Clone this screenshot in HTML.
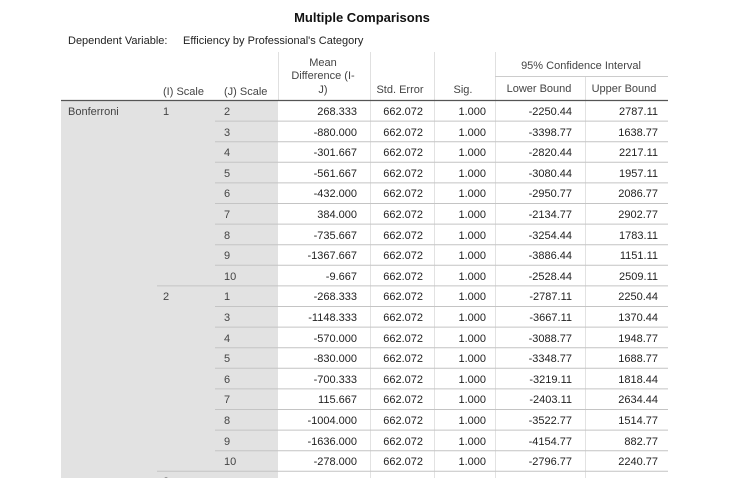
<!DOCTYPE html>
<html><head><meta charset="utf-8"><style>
html,body{margin:0;padding:0;background:#fff;width:739px;height:504px;overflow:hidden}
svg{display:block;font-family:"Liberation Sans",Arial,sans-serif}
.t{font-size:11px;fill:#222}
.l{font-size:11px;fill:#444}
.r{text-anchor:end}
.c{text-anchor:middle}
</style></head><body>
<svg width="739" height="504" viewBox="0 0 739 504">
<defs><clipPath id="cp"><rect x="0" y="0" width="739" height="478"/></clipPath></defs>
<text x="362" y="22" class="c" style="font-size:13px;font-weight:bold;fill:#111">Multiple Comparisons</text>
<text x="68" y="44" class="t">Dependent Variable:</text>
<text x="183" y="44" class="t">Efficiency by Professional's Category</text>
<!-- header -->
<g stroke="#e0e0e0" stroke-width="1">
<line x1="370.5" y1="52" x2="370.5" y2="100"/>
<line x1="434.5" y1="52" x2="434.5" y2="100"/>
<line x1="495.5" y1="52" x2="495.5" y2="100"/>
<line x1="585.5" y1="76" x2="585.5" y2="100"/>
<line x1="278.5" y1="52" x2="278.5" y2="100"/>
</g>
<line x1="495" y1="76.5" x2="668" y2="76.5" stroke="#ccc"/>
<text x="323" y="66" class="l c">Mean</text>
<text x="323" y="79" class="l c">Difference (I-</text>
<text x="323" y="93" class="l c">J)</text>
<text x="163" y="95" class="l">(I) Scale</text>
<text x="224" y="95" class="l">(J) Scale</text>
<text x="400" y="93" class="l c">Std. Error</text>
<text x="463" y="93" class="l c">Sig.</text>
<text x="581" y="69" class="l c">95% Confidence Interval</text>
<text x="539" y="92" class="l c">Lower Bound</text>
<text x="624" y="92" class="l c">Upper Bound</text>
<g clip-path="url(#cp)">
<rect x="61" y="100" width="217" height="380" fill="#e2e2e2"/>
<g stroke="#e2e2e2">
<line x1="370.5" y1="100" x2="370.5" y2="480"/>
<line x1="434.5" y1="100" x2="434.5" y2="480"/>
<line x1="495.5" y1="100" x2="495.5" y2="480"/>
<line x1="585.5" y1="100" x2="585.5" y2="480"/>
</g>
<g stroke="#c4c4c4">
<line x1="215" y1="121.1" x2="668" y2="121.1"/>
<line x1="215" y1="141.7" x2="668" y2="141.7"/>
<line x1="215" y1="162.3" x2="668" y2="162.3"/>
<line x1="215" y1="182.9" x2="668" y2="182.9"/>
<line x1="215" y1="203.5" x2="668" y2="203.5"/>
<line x1="215" y1="224.1" x2="668" y2="224.1"/>
<line x1="215" y1="244.7" x2="668" y2="244.7"/>
<line x1="215" y1="265.3" x2="668" y2="265.3"/>
<line x1="157" y1="285.9" x2="668" y2="285.9"/>
<line x1="215" y1="306.5" x2="668" y2="306.5"/>
<line x1="215" y1="327.1" x2="668" y2="327.1"/>
<line x1="215" y1="347.7" x2="668" y2="347.7"/>
<line x1="215" y1="368.3" x2="668" y2="368.3"/>
<line x1="215" y1="388.9" x2="668" y2="388.9"/>
<line x1="215" y1="409.5" x2="668" y2="409.5"/>
<line x1="215" y1="430.1" x2="668" y2="430.1"/>
<line x1="215" y1="450.7" x2="668" y2="450.7"/>
<line x1="157" y1="471.3" x2="668" y2="471.3"/>
</g>
<line x1="61" y1="100.5" x2="668" y2="100.5" stroke="#555" stroke-width="1.2"/>
<text x="68" y="115" class="l">Bonferroni</text>
<text x="163" y="115" class="l">1</text>
<text x="163" y="300" class="l">2</text>
<text x="163" y="485" class="l">3</text>
<g class="l">
<text x="224" y="115">2</text><text x="224" y="136">3</text><text x="224" y="156">4</text><text x="224" y="177">5</text><text x="224" y="197">6</text><text x="224" y="218">7</text><text x="224" y="239">8</text><text x="224" y="259">9</text><text x="224" y="280">10</text>
<text x="224" y="300">1</text><text x="224" y="321">3</text><text x="224" y="342">4</text><text x="224" y="362">5</text><text x="224" y="383">6</text><text x="224" y="403">7</text><text x="224" y="424">8</text><text x="224" y="445">9</text><text x="224" y="465">10</text><text x="224" y="486">1</text>
</g>
<g class="t r">
<text x="357" y="115">268.333</text><text x="357" y="136">-880.000</text><text x="357" y="156">-301.667</text><text x="357" y="177">-561.667</text><text x="357" y="197">-432.000</text><text x="357" y="218">384.000</text><text x="357" y="239">-735.667</text><text x="357" y="259">-1367.667</text><text x="357" y="280">-9.667</text>
<text x="357" y="300">-268.333</text><text x="357" y="321">-1148.333</text><text x="357" y="342">-570.000</text><text x="357" y="362">-830.000</text><text x="357" y="383">-700.333</text><text x="357" y="403">115.667</text><text x="357" y="424">-1004.000</text><text x="357" y="445">-1636.000</text><text x="357" y="465">-278.000</text><text x="357" y="486">-880.000</text>
</g>
<g class="t r">
<text x="423" y="115">662.072</text><text x="423" y="136">662.072</text><text x="423" y="156">662.072</text><text x="423" y="177">662.072</text><text x="423" y="197">662.072</text><text x="423" y="218">662.072</text><text x="423" y="239">662.072</text><text x="423" y="259">662.072</text><text x="423" y="280">662.072</text>
<text x="423" y="300">662.072</text><text x="423" y="321">662.072</text><text x="423" y="342">662.072</text><text x="423" y="362">662.072</text><text x="423" y="383">662.072</text><text x="423" y="403">662.072</text><text x="423" y="424">662.072</text><text x="423" y="445">662.072</text><text x="423" y="465">662.072</text><text x="423" y="486">662.072</text>
</g>
<g class="t r">
<text x="486" y="115">1.000</text><text x="486" y="136">1.000</text><text x="486" y="156">1.000</text><text x="486" y="177">1.000</text><text x="486" y="197">1.000</text><text x="486" y="218">1.000</text><text x="486" y="239">1.000</text><text x="486" y="259">1.000</text><text x="486" y="280">1.000</text>
<text x="486" y="300">1.000</text><text x="486" y="321">1.000</text><text x="486" y="342">1.000</text><text x="486" y="362">1.000</text><text x="486" y="383">1.000</text><text x="486" y="403">1.000</text><text x="486" y="424">1.000</text><text x="486" y="445">1.000</text><text x="486" y="465">1.000</text><text x="486" y="486">1.000</text>
</g>
<g class="t r">
<text x="572" y="115">-2250.44</text><text x="572" y="136">-3398.77</text><text x="572" y="156">-2820.44</text><text x="572" y="177">-3080.44</text><text x="572" y="197">-2950.77</text><text x="572" y="218">-2134.77</text><text x="572" y="239">-3254.44</text><text x="572" y="259">-3886.44</text><text x="572" y="280">-2528.44</text>
<text x="572" y="300">-2787.11</text><text x="572" y="321">-3667.11</text><text x="572" y="342">-3088.77</text><text x="572" y="362">-3348.77</text><text x="572" y="383">-3219.11</text><text x="572" y="403">-2403.11</text><text x="572" y="424">-3522.77</text><text x="572" y="445">-4154.77</text><text x="572" y="465">-2796.77</text><text x="572" y="486">-1638.77</text>
</g>
<g class="t r">
<text x="658" y="115">2787.11</text><text x="658" y="136">1638.77</text><text x="658" y="156">2217.11</text><text x="658" y="177">1957.11</text><text x="658" y="197">2086.77</text><text x="658" y="218">2902.77</text><text x="658" y="239">1783.11</text><text x="658" y="259">1151.11</text><text x="658" y="280">2509.11</text>
<text x="658" y="300">2250.44</text><text x="658" y="321">1370.44</text><text x="658" y="342">1948.77</text><text x="658" y="362">1688.77</text><text x="658" y="383">1818.44</text><text x="658" y="403">2634.44</text><text x="658" y="424">1514.77</text><text x="658" y="445">882.77</text><text x="658" y="465">2240.77</text><text x="658" y="486">3398.77</text>
</g>
</g>
</svg>
</body></html>
